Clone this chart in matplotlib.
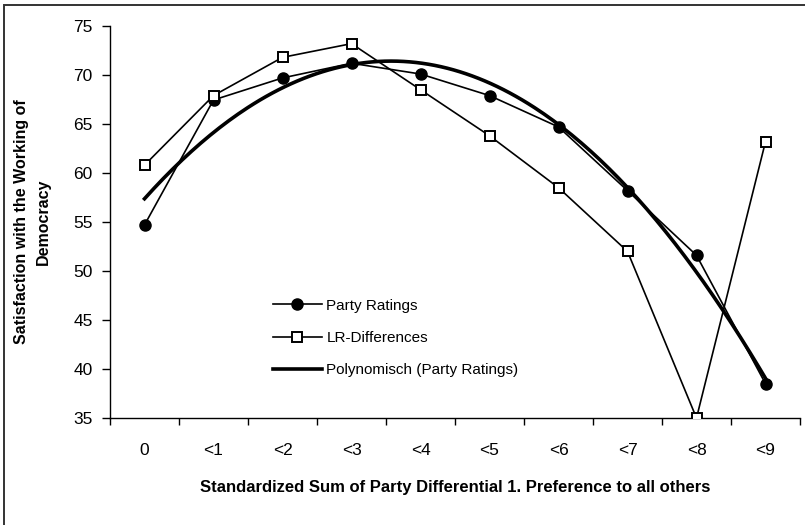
import numpy as np
import matplotlib.pyplot as plt
from matplotlib.patches import Rectangle

plt.rcParams['font.family'] = ['Liberation Sans', 'DejaVu Sans']

categories = ['0', '<1', '<2', '<3', '<4', '<5', '<6', '<7', '<8', '<9']
party_ratings = [54.7, 67.45, 69.7, 71.2, 70.1, 67.9, 64.7, 58.2, 51.6, 38.5]
lr_differences = [60.8, 67.9, 71.8, 73.2, 68.5, 63.8, 58.5, 52.0, 35.0, 63.2]

x = np.arange(len(categories))

fig = plt.figure(figsize=(8.05, 5.25), dpi=100)
ax = fig.add_axes([110 / 805, 107 / 525, 690 / 805, 392 / 525])

# outer chart border (only left and top visible in the original)
fig.patches.append(Rectangle((3.5 / 805, -0.1), 1.2, (520 / 525) + 0.1,
                             transform=fig.transFigure, fill=False,
                             edgecolor='#333333', linewidth=1.4))

ax.plot(x, party_ratings, color='black', lw=1.2, marker='o', ms=8,
        mfc='black', mec='black', label='Party Ratings', zorder=3)
ax.plot(x, lr_differences, color='black', lw=1.2, marker='s', ms=7.5,
        mfc='white', mec='black', mew=1.4, label='LR-Differences', zorder=4)

# polynomial trendline (order 2) of the party ratings
coef = np.polyfit(x, party_ratings, 2)
xs = np.linspace(0, 9, 200)
ax.plot(xs, np.polyval(coef, xs), color='black', lw=2.6,
        label='Polynomisch (Party Ratings)', zorder=2)

ax.set_xlim(-0.5, 9.5)
ax.set_ylim(35, 75)
ax.set_yticks(range(35, 80, 5))
ax.set_xticks(np.arange(-0.5, 10, 1))
ax.set_xticklabels([])
ax.set_xticks(x, minor=True)
ax.set_xticklabels(categories, minor=True)
ax.tick_params(axis='x', which='major', length=5, direction='out', width=1)
ax.tick_params(axis='x', which='minor', length=0, pad=18, labelsize=12.5)
ax.tick_params(axis='y', length=5.5, direction='out', width=1, labelsize=12.5, pad=7)

for s in ['top', 'right']:
    ax.spines[s].set_visible(False)
for s in ['left', 'bottom']:
    ax.spines[s].set_linewidth(1.0)

ax.set_xlabel('Standardized Sum of Party Differential 1. Preference to all others',
              fontsize=12, fontweight='bold', labelpad=16)
ax.set_ylabel('Satisfaction with the Working of\nDemocracy',
              fontsize=11.5, fontweight='bold', labelpad=16, linespacing=1.55)

ax.legend(loc='upper left', bbox_to_anchor=(0.236, 0.304), frameon=False,
          fontsize=11, handlelength=3.2, handletextpad=0.3, labelspacing=1.2,
          borderaxespad=0, borderpad=0)

fig.savefig('out.png', dpi=100)
